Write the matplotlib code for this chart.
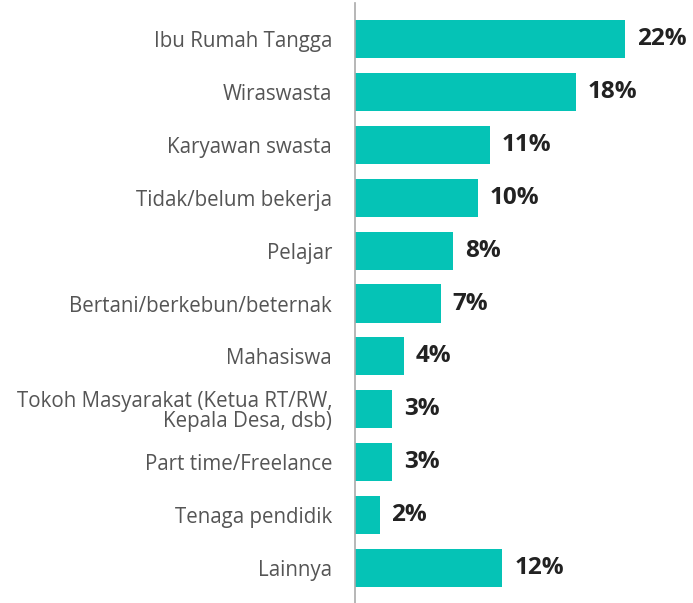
import numpy as np
import matplotlib.pyplot as plt

# data
categories = ["Ibu Rumah Tangga", "Wiraswasta", "Karyawan swasta", "Tidak/belum bekerja",
              "Pelajar", "Bertani/berkebun/beternak", "Mahasiswa",
              "Tokoh Masyarakat (Ketua RT/RW,\nKepala Desa, dsb)", "Part time/Freelance",
              "Tenaga pendidik", "Lainnya"]
values = [22, 18, 11, 10, 8, 7, 4, 3, 3, 2, 12]
value_labels = ["22%", "18%", "11%", "10%", "8%", "7%", "4%", "3%", "3%", "2%", "12%"]

plt.rcParams['font.family'] = ['Open Sans', 'DejaVu Sans']

fig = plt.figure(figsize=(6.93, 6.03), dpi=100)
ax = fig.add_axes([355/693, 0, 338/693, 600/603])

y = np.arange(len(categories))
ax.barh(y, values, height=0.72, color='#05C3B6')

for yi, v, lab in zip(y, values, value_labels):
    ax.annotate(lab, (v, yi), xytext=(8.5, 0), textcoords='offset points',
                va='center', ha='left', fontsize=17.5, fontweight='bold', color='#222222')

ax.set_yticks(y)
ax.set_yticklabels(categories, fontsize=14.8, color='#555555', linespacing=0.95)
ax.tick_params(axis='y', length=0, pad=16.5)
ax.set_xticks([])
ax.set_xlim(0, 27.5)
ax.set_ylim(10.66, -0.68)

for s in ['top', 'right', 'bottom']:
    ax.spines[s].set_visible(False)
ax.spines['left'].set_color('#aaaaaa')
ax.spines['left'].set_linewidth(1.2)

fig.savefig('out.png', dpi=100)
